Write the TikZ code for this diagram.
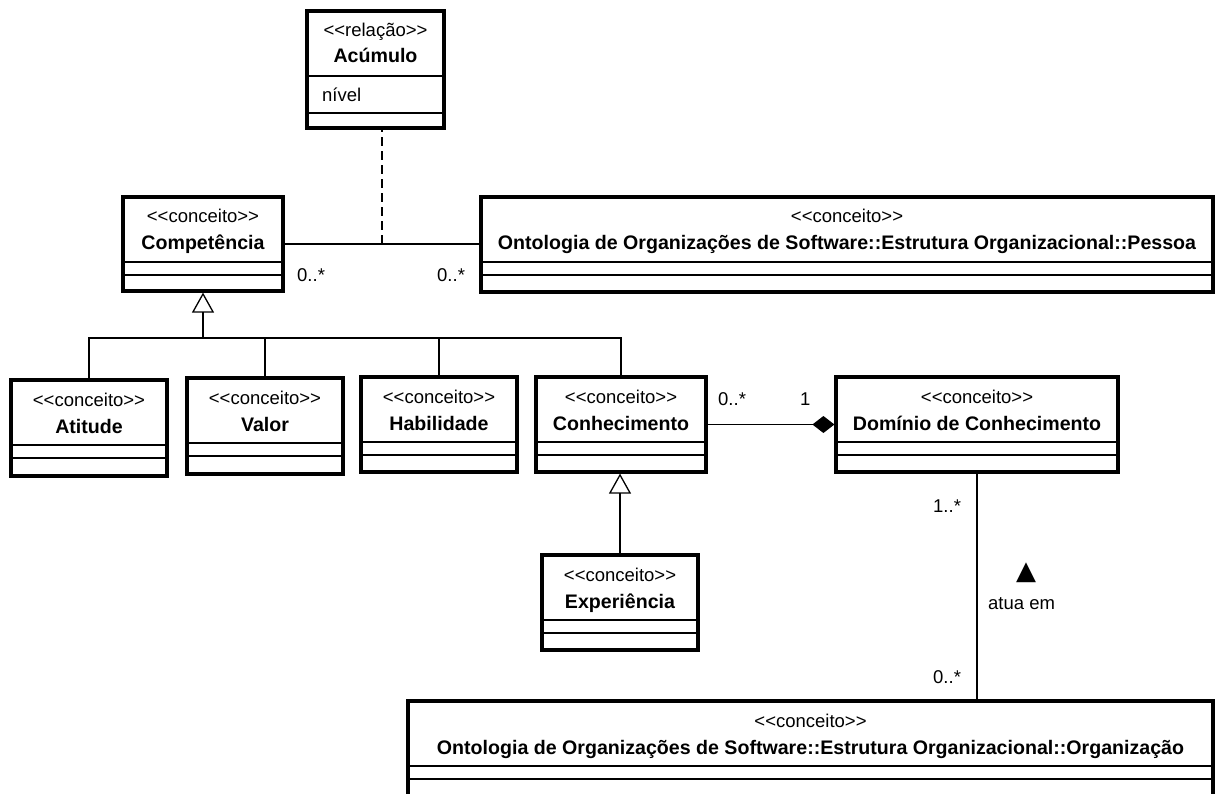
\documentclass[tikz,border=0pt]{standalone}
\usepackage{fontspec}
\setmainfont{Liberation Sans}
\newfontfamily\symfont{DejaVu Sans}
\usetikzlibrary{arrows.meta}

% guillemet-style stereotype brackets, kept as two separate < / > glyphs
\newcommand\stt[1]{<\kern0pt<#1>\kern0pt>}

\tikzset{
  box/.style={draw, line width=3.2pt, rectangle, inner sep=0pt, fill=white},
  sep/.style={line width=1.8pt},
  conn/.style={line width=1.3pt},
  stereo/.style={font=\fontsize{18.5}{21}\selectfont, inner sep=0pt, anchor=base},
  ttl/.style={font=\bfseries\fontsize{19.6}{22}\selectfont, inner sep=0pt, anchor=base},
  lbl/.style={font=\fontsize{18.5}{21}\selectfont, inner sep=0pt, anchor=base west},
  gen/.style={conn, -{Triangle[open, length=20pt, width=22pt, line width=1.3pt]}},
  comp/.style={conn, -{Diamond[length=22pt, width=17pt]}},
}

% class box: name, x1, y1, x2, y2, stereotype, title
\newcommand\umlclass[7]{%
  \pgfmathsetmacro\ucx{(#2+#4)/2}%
  \pgfmathsetmacro\ucy{(#3+#5)/2}%
  \pgfmathsetmacro\ucw{#4-#2}%
  \pgfmathsetmacro\uch{#5-#3}%
  \node[box, minimum width=\ucw pt, minimum height=\uch pt] (#1) at (\ucx,\ucy) {};
  \draw[sep] (#2,#3+65) -- (#4,#3+65);
  \draw[sep] (#2,#3+78) -- (#4,#3+78);
  \node[stereo] at (\ucx,#3+26) {\stt{#6}};
  \node[ttl] at (\ucx,#3+53) {#7};
}

\begin{document}
\begin{tikzpicture}[x=1pt, y=-1pt]
\clip (0,0) rectangle (1215,794);
\fill[white] (0,0) rectangle (1215,794);

% association class
\node[box, minimum width=137pt, minimum height=117pt] (acum) at (375.5,69.5) {};
\draw[sep] (307,76) -- (444,76);
\draw[sep] (307,113) -- (444,113);
\node[stereo] at (375.5,37) {\stt{relação}};
\node[ttl] at (375.5,63) {Acúmulo};
\node[lbl] at (322,102) {nível};

% classes
\umlclass{compet}{123}{197}{283}{291}{conceito}{Competência}
\umlclass{pessoa}{481}{197}{1213}{292}{conceito}{Ontologia de Organizações de Software::Estrutura Organizacional::Pessoa}
\umlclass{atitude}{11}{380}{167}{476}{conceito}{Atitude}
\umlclass{valor}{187}{378}{343}{474}{conceito}{Valor}
\umlclass{habil}{361}{377}{517}{472}{conceito}{Habilidade}
\umlclass{conhec}{536}{377}{706}{472}{conceito}{Conhecimento}
\umlclass{dominio}{836}{377}{1118}{472}{conceito}{Domínio de Conhecimento}
\umlclass{exper}{542}{555}{698}{650}{conceito}{Experiência}
\umlclass{organiz}{408}{701}{1213}{840}{conceito}{Ontologia de Organizações de Software::Estrutura Organizacional::Organização}

% Competência -- Pessoa association with its association class
\draw[conn] (compet.east) -- (pessoa.west |- compet.east);
\coordinate (mid) at (382,244);
\draw[conn, dash pattern=on 9pt off 5pt] (mid) -- (acum.south -| mid);
\node[lbl] at (297,282) {0..*};
\node[lbl] at (437,282) {0..*};

% generalisation tree under Competência
\coordinate (bus) at (compet.south |- 0,338);
\draw[conn] (atitude.north) |- (bus);
\draw[conn] (valor.north) |- (bus);
\draw[conn] (habil.north) |- (bus);
\draw[conn] (conhec.north) |- (bus);
\draw[gen] (bus) -- (compet.south);

% Experiência specialises Conhecimento
\draw[gen] (exper.north) -- (exper.north |- conhec.south);

% composition Conhecimento -- Domínio de Conhecimento
\draw[comp] (conhec.east) -- (dominio.west |- conhec.east);
\node[lbl] at (718,405) {0..*};
\node[lbl] at (800,405) {1};

% "atua em" association
\draw[conn] (dominio.south) -- (organiz.north -| dominio.south);
\node[lbl] at (933,512) {1..*};
\node[lbl] at (933,683) {0..*};
\node[inner sep=0pt, font=\symfont\fontsize{26}{28}\selectfont] (dir) at (1026,573) {▲};
\node[lbl] at (988,609) {atua em};
\end{tikzpicture}
\end{document}
